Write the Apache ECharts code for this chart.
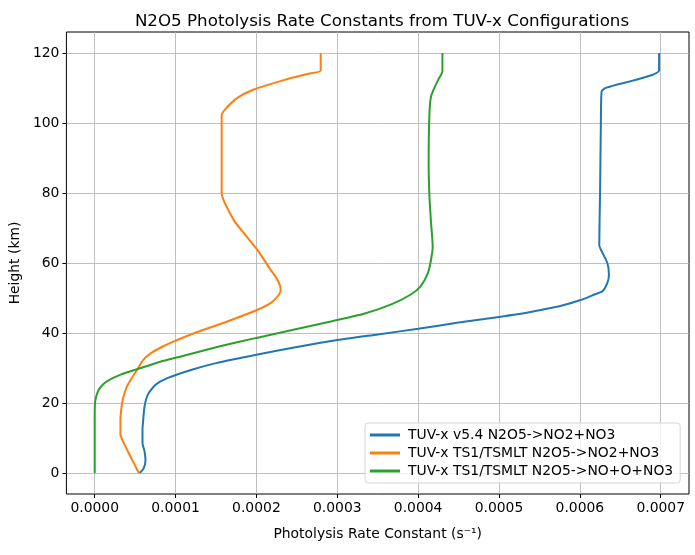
<!DOCTYPE html>
<html>
<head>
<meta charset="utf-8">
<script src="https://cdn.jsdelivr.net/npm/echarts@6/dist/echarts.min.js"></script>
<style>
  html, body { margin: 0; padding: 0; background: #fff; }
  #chart { width: 695px; height: 555px; }
</style>
</head>
<body>
<div id="chart"></div>
<script>
const seriesNames = [
  "TUV-x v5.4 N2O5->NO2+NO3",
  "TUV-x TS1/TSMLT N2O5->NO2+NO3",
  "TUV-x TS1/TSMLT N2O5->NO+O+NO3",
];
const COLORS = ["#1f77b4", "#ff7f0e", "#2ca02c"];

// tick labels
const heightTicks = [0, 20, 40, 60, 80, 100, 120];
const rateTicks = [0, 0.0001, 0.0002, 0.0003, 0.0004, 0.0005, 0.0006, 0.0007];

// TUV-x v5.4 N2O5->NO2+NO3
const v54Heights = [0, 1.4, 3.8, 6.2, 8.6, 12.4, 15.2, 19, 22.4, 25.2, 27.1, 29.5, 31.4, 33.8, 36, 38, 39.6, 41.2, 43, 44.6, 45.4, 46.4, 47.8, 49.5, 51, 51.9, 54.3, 56.7, 60, 63.8, 65.1, 80, 100, 109.1, 110.1, 115, 120];
const v54Rates = [0.555e-4, 0.607e-4, 0.628e-4, 0.616e-4, 0.591e-4, 0.591e-4, 0.600e-4, 0.616e-4, 0.657e-4, 0.752e-4, 0.897e-4, 1.20e-4, 1.50e-4, 2.00e-4, 2.50e-4, 3.00e-4, 3.50e-4, 4.00e-4, 4.50e-4, 5.00e-4, 5.25e-4, 5.48e-4, 5.77e-4, 6.02e-4, 6.18e-4, 6.28e-4, 6.34e-4, 6.36e-4, 6.34e-4, 6.26e-4, 6.24e-4, 6.25e-4, 6.26e-4, 6.27e-4, 6.33e-4, 6.98e-4, 6.98e-4];

// TUV-x TS1/TSMLT N2O5->NO2+NO3
const tsNo2Heights = [0, 1.9, 4.8, 7.6, 11, 15.2, 20, 22.5, 24.8, 27, 29.5, 32, 34, 36, 37.6, 40.2, 43.3, 46.5, 48.6, 51, 52.4, 55.2, 58.6, 63.8, 68.1, 71.9, 77.1, 80, 102.1, 103.8, 107.1, 109.5, 112.4, 114, 115, 120];
const tsNo2Rates = [0.545e-4, 0.504e-4, 0.44e-4, 0.38e-4, 0.318e-4, 0.318e-4, 0.339e-4, 0.365e-4, 0.40e-4, 0.455e-4, 0.525e-4, 0.59e-4, 0.68e-4, 0.83e-4, 0.98e-4, 1.26e-4, 1.64e-4, 2.00e-4, 2.18e-4, 2.28e-4, 2.30e-4, 2.26e-4, 2.16e-4, 2.01e-4, 1.86e-4, 1.73e-4, 1.61e-4, 1.57e-4, 1.57e-4, 1.61e-4, 1.76e-4, 1.96e-4, 2.36e-4, 2.63e-4, 2.795e-4, 2.795e-4];

// TUV-x TS1/TSMLT N2O5->NO+O+NO3
const tsNoHeights = [0, 17, 20, 22, 23.8, 25, 26.2, 28.1, 29.7, 31.8, 33.5, 36.2, 38.6, 41, 43.3, 45.5, 48.1, 51, 53.3, 57.1, 61, 64.8, 71.4, 79, 88.6, 102.9, 107.6, 110, 112.4, 114.8, 120];
const tsNoRates = [0, 0, 0.004e-4, 0.02e-4, 0.05e-4, 0.09e-4, 0.15e-4, 0.32e-4, 0.53e-4, 0.81e-4, 1.10e-4, 1.55e-4, 2.00e-4, 2.47e-4, 2.92e-4, 3.33e-4, 3.66e-4, 3.91e-4, 4.03e-4, 4.12e-4, 4.16e-4, 4.18e-4, 4.16e-4, 4.14e-4, 4.13e-4, 4.14e-4, 4.16e-4, 4.20e-4, 4.25e-4, 4.30e-4, 4.30e-4];

const profiles = [
  [v54Rates, v54Heights],
  [tsNo2Rates, tsNo2Heights],
  [tsNoRates, tsNoHeights],
];

const FONT = "DejaVu Sans";
const FS = 13.9;
const chart = echarts.init(document.getElementById("chart"), null, { renderer: "canvas" });

const option = {
  animation: false,
  backgroundColor: "#fff",
  textStyle: { fontFamily: FONT, color: "#000" },
  title: {
    text: "N2O5 Photolysis Rate Constants from TUV-x Configurations",
    left: 377,
    top: 8,
    textAlign: "center",
    textStyle: { fontFamily: FONT, fontSize: 16.7, fontWeight: "normal", color: "#000" },
  },
  grid: {
    left: 66, right: 6, top: 32, bottom: 61,
    show: true, borderColor: "#000", borderWidth: 1, backgroundColor: "transparent",
  },
  legend: {
    orient: "vertical",
    left: 365,
    top: 423,
    padding: [5, 7, 5, 5],
    itemGap: 4,
    itemWidth: 30,
    itemHeight: 3,
    icon: "rect",
    borderColor: "#d5d5d5",
    borderWidth: 1,
    borderRadius: 3,
    backgroundColor: "rgba(255,255,255,0.8)",
    textStyle: { fontFamily: FONT, fontSize: FS, color: "#000", padding: [0, 0, 0, 3] },
    data: seriesNames,
  },
  xAxis: {
    type: "value",
    min: -0.000035,
    max: 0.000735,
    name: "Photolysis Rate Constant (s⁻¹)",
    nameLocation: "middle",
    nameGap: 33,
    nameTextStyle: { fontFamily: FONT, fontSize: FS, color: "#000" },
    axisLine: { show: false, onZero: false },
    axisTick: { show: true, inside: false, length: 4, lineStyle: { color: "#000" }, customValues: rateTicks },
    axisLabel: {
      customValues: rateTicks,
      fontFamily: FONT, fontSize: FS, color: "#000", margin: 7,
      formatter: (v) => v.toFixed(4),
    },
    splitLine: { show: true, lineStyle: { color: "#b0b0b0", width: 0.8 } },
  },
  yAxis: {
    type: "value",
    min: -6,
    max: 126,
    name: "Height (km)",
    nameLocation: "middle",
    nameGap: 43,
    nameTextStyle: { fontFamily: FONT, fontSize: FS, color: "#000" },
    axisLine: { show: false, onZero: false },
    axisTick: { show: true, inside: false, length: 4, lineStyle: { color: "#000" }, customValues: heightTicks },
    axisLabel: {
      customValues: heightTicks,
      fontFamily: FONT, fontSize: FS, color: "#000", margin: 7,
    },
    splitLine: { show: true, lineStyle: { color: "#b0b0b0", width: 0.8 } },
  },
  series: profiles.map(([rates, heights], i) => ({
    name: seriesNames[i],
    type: "line",
    showSymbol: false,
    symbol: "none",
    smooth: 0.2,
    color: COLORS[i],
    lineStyle: { width: 2, color: COLORS[i] },
    data: rates.map((r, k) => [r, heights[k]]),
  })),
};

chart.setOption(option);
</script>
</body>
</html>
